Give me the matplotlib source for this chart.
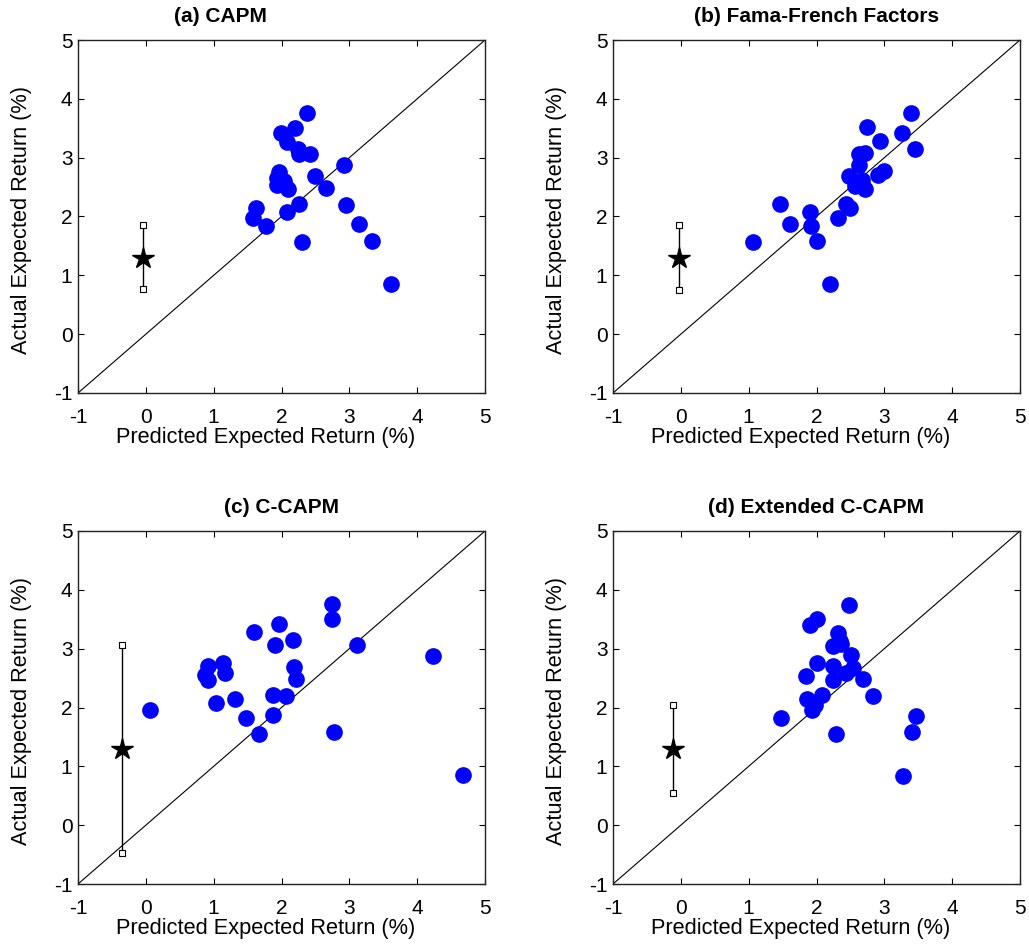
import matplotlib
matplotlib.use("Agg")
import matplotlib.pyplot as plt

plt.rcParams["font.family"] = ["Liberation Sans", "DejaVu Sans"]
plt.rcParams["axes.unicode_minus"] = False

# ---- data: predicted vs actual expected return (%) for 25 portfolios ----
capm_x = [2.37, 2.20, 1.99, 2.08, 2.25, 2.26, 2.42, 2.92, 1.96, 1.94, 2.03, 1.93, 2.09,
          2.49, 2.65, 2.26, 2.95, 1.62, 2.08, 1.58, 1.77, 3.14, 2.30, 3.34, 3.61]
capm_y = [3.76, 3.51, 3.42, 3.26, 3.15, 3.07, 3.06, 2.88, 2.76, 2.66, 2.61, 2.54, 2.46,
          2.68, 2.49, 2.22, 2.20, 2.15, 2.07, 1.97, 1.84, 1.87, 1.56, 1.59, 0.86]

ff_x = [3.39, 2.74, 3.26, 2.94, 3.45, 2.72, 2.62, 2.63, 2.99, 2.91, 2.48, 2.67, 2.57,
        2.71, 2.65, 2.43, 2.50, 1.46, 1.90, 2.32, 1.61, 1.92, 2.01, 1.06, 2.20]
ff_y = [3.76, 3.52, 3.42, 3.28, 3.15, 3.08, 3.06, 2.88, 2.77, 2.71, 2.69, 2.62, 2.52,
        2.47, 2.55, 2.22, 2.14, 2.21, 2.08, 1.97, 1.87, 1.84, 1.59, 1.56, 0.86]

ccapm_x = [2.74, 2.75, 1.97, 1.60, 2.17, 1.91, 3.12, 4.23, 0.91, 1.14, 2.18, 1.16, 0.87,
           0.91, 2.22, 1.87, 2.06, 1.32, 1.03, 0.06, 1.48, 1.88, 1.67, 2.77, 4.68]
ccapm_y = [3.76, 3.51, 3.42, 3.28, 3.15, 3.07, 3.06, 2.88, 2.71, 2.76, 2.68, 2.59, 2.55,
           2.47, 2.48, 2.22, 2.20, 2.14, 2.07, 1.96, 1.83, 1.87, 1.55, 1.58, 0.85]

ext_x = [2.48, 2.01, 1.91, 2.31, 2.35, 2.25, 2.51, 2.00, 2.25, 2.54, 2.44, 1.84, 2.69,
         2.25, 2.83, 2.08, 1.86, 1.98, 1.93, 1.47, 3.46, 2.29, 3.41, 3.27, 2.36]
ext_y = [3.75, 3.50, 3.41, 3.27, 3.13, 3.05, 2.89, 2.75, 2.70, 2.67, 2.59, 2.54, 2.48,
         2.46, 2.19, 2.22, 2.14, 2.04, 1.95, 1.82, 1.86, 1.55, 1.58, 0.84, 3.08]

# mean return star with its error band (x, centre, low, high)
star_x = [-0.04, -0.03, -0.35, -0.12]
star_y = [1.30, 1.30, 1.30, 1.29]
bar_lo = [0.76, 0.75, -0.47, 0.55]
bar_hi = [1.85, 1.86, 3.06, 2.04]

titles = ["(a) CAPM", "(b) Fama-French Factors", "(c) C-CAPM", "(d) Extended C-CAPM"]
title_cx = [0.35, 0.5, 0.5, 0.5]       # title centre, axes fraction
xs = [capm_x, ff_x, ccapm_x, ext_x]
ys = [capm_y, ff_y, ccapm_y, ext_y]
ticks = [-1, 0, 1, 2, 3, 4, 5]

fig = plt.figure(figsize=(10.29, 9.51), dpi=100)
W, H = 1029, 951
boxes = [(78, 40), (613, 40), (78, 531), (613, 531)]   # left/top in px
aw, ah = 407, 353

for i, (l, t) in enumerate(boxes):
    ax = fig.add_axes([l / W, 1 - (t + ah) / H, aw / W, ah / H])
    ax.plot([-1, 5], [-1, 5], color="black", lw=0.8, zorder=1)
    ax.plot([star_x[i], star_x[i]], [bar_lo[i], bar_hi[i]], color="black", lw=1.0, zorder=2)
    ax.plot([star_x[i], star_x[i]], [bar_lo[i], bar_hi[i]], ls="none", marker="s",
            ms=3.8, mfc="white", mec="black", mew=0.8, zorder=3)
    ax.plot(star_x[i], star_y[i], marker="*", ms=16, color="black", ls="none", zorder=4)
    ax.plot(xs[i], ys[i], ls="none", marker="o", ms=11, color="#0000ff",
            mec="#0000ff", zorder=5)
    ax.set_xlim(-1, 5)
    ax.set_ylim(-1, 5)
    ax.set_xticks(ticks)
    ax.set_yticks(ticks)
    ax.tick_params(direction="in", top=True, right=True, length=4, width=0.8,
                   labelsize=15)
    ax.tick_params(axis="x", pad=11)
    ax.tick_params(axis="y", pad=4)
    for s in ax.spines.values():
        s.set_linewidth(1.0)
        s.set_color("#222222")
    ax.set_xlabel("Predicted Expected Return (%)", fontsize=15.7)
    ax.xaxis.set_label_coords(0.462, -0.096)
    ax.set_ylabel("Actual Expected Return (%)", fontsize=15.7)
    ax.yaxis.set_label_coords(-0.113, 0.49)
    ax.text(title_cx[i], 1.0 + 18 / ah, titles[i], transform=ax.transAxes,
            ha="center", va="baseline", fontsize=15, fontweight="bold")

fig.savefig("out.png", dpi=100)
